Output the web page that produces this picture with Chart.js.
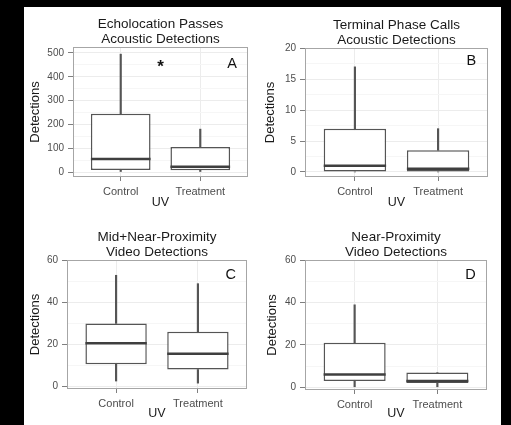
<!DOCTYPE html>
<html>
<head>
<meta charset="utf-8">
<script src="https://cdn.jsdelivr.net/npm/chart.js@4/dist/chart.umd.min.js"></script>
<style>
  html, body { margin: 0; padding: 0; background: #000; width: 511px; height: 425px; overflow: hidden; }
  #sheet { position: absolute; left: 24px; top: 7px; width: 477px; height: 418px; background: #fff; }
  canvas { position: absolute; }
</style>
</head>
<body>
<div id="sheet"></div>
<canvas id="chartA" width="238" height="208" style="left:24px;top:7px"></canvas>
<canvas id="chartB" width="239" height="208" style="left:262px;top:7px"></canvas>
<canvas id="chartC" width="238" height="210" style="left:24px;top:215px"></canvas>
<canvas id="chartD" width="239" height="210" style="left:262px;top:215px"></canvas>
<script>
// categories on the x axis
var categories = ["Control", "Treatment"];

// box summaries per category: [lower whisker, Q1, median, Q3, upper whisker]
var echoControl = [0, 8, 55, 245, 495];
var echoTreatment = [0, 7, 22, 105, 180];
var terminalControl = [0, 0, 1, 7, 17];
var terminalTreatment = [0, 0, 0.5, 3.5, 7];
var midNearControl = [2.5, 10.5, 20.5, 30, 53];
var midNearTreatment = [1.5, 8, 15.5, 26, 49];
var nearControl = [0, 3, 6, 21, 39];
var nearTreatment = [0, 2, 3, 7, 7];

// y tick labels
var ticksEcho = [0, 100, 200, 300, 400, 500];
var ticksTerminal = [0, 5, 10, 15, 20];
var ticksVideo = [0, 20, 40, 60];

var panelTitles = [
    ["Echolocation Passes", "Acoustic Detections"],
    ["Terminal Phase Calls", "Acoustic Detections"],
    ["Mid+Near-Proximity", "Video Detections"],
    ["Near-Proximity", "Video Detections"]
];
var panelLetters = ["A", "B", "C", "D"];
var letterY = [455, 18, 53, 53];
var starLabel = "*";
var starY = 440;

var BOX_WIDTH = 0.75;
var LINE_COLOR = "#555555";
var FONT = "'Liberation Sans', Arial, sans-serif";

// frame round the plotting area
var framePlugin = {
    id: "frame",
    beforeDatasetsDraw: function (chart) {
        var a = chart.chartArea, ctx = chart.ctx;
        ctx.save();
        ctx.strokeStyle = "#a6a6a6";
        ctx.lineWidth = 1;
        ctx.strokeRect(Math.round(a.left) + 0.5, Math.round(a.top) + 0.5,
            Math.round(a.right - a.left) - 1, Math.round(a.bottom - a.top) - 1);
        ctx.restore();
    }
};

// text notes placed in data coordinates (panel letter, asterisk)
var notesPlugin = {
    id: "notes",
    afterDatasetsDraw: function (chart, args, opts) {
        var ctx = chart.ctx, xs = chart.scales.x, ys = chart.scales.y;
        (opts.items || []).forEach(function (n) {
            ctx.save();
            ctx.font = n.font;
            ctx.fillStyle = "#111";
            ctx.textAlign = "center";
            ctx.textBaseline = "middle";
            ctx.fillText(n.text, xs.getPixelForValue(n.x), ys.getPixelForValue(n.y));
            ctx.restore();
        });
    }
};

function makePanel(id, idx, control, treatment, majorTicks, layout) {
    var stats = [control, treatment];
    var step = majorTicks[1] - majorTicks[0];
    var allTicks = [];
    majorTicks.forEach(function (t) {
        allTicks.push(t);
        if (t + step / 2 < layout.yMax) allTicks.push(t + step / 2);
    });

    var notes = [{ text: panelLetters[idx], x: 2.4, y: letterY[idx], font: "14.5px " + FONT }];
    if (layout.star) notes.push({ text: starLabel, x: 1.5, y: starY, font: "bold 17px " + FONT });

    var whiskerCommon = {
        type: "bar", grouped: false, barThickness: 1.5,
        backgroundColor: LINE_COLOR, borderWidth: 0, order: 2
    };

    new Chart(document.getElementById(id), {
        type: "bar",
        data: {
            datasets: [
                Object.assign({ data: stats.map(function (s, i) { return { x: i + 1, y: [s[0], s[1]] }; }) }, whiskerCommon),
                Object.assign({ data: stats.map(function (s, i) { return { x: i + 1, y: [s[3], s[4]] }; }) }, whiskerCommon),
                {
                    type: "bar",
                    grouped: false,
                    data: stats.map(function (s, i) { return { x: i + 1, y: [s[1], s[3]] }; }),
                    backgroundColor: "#ffffff",
                    borderColor: LINE_COLOR,
                    borderWidth: 1.5,
                    borderSkipped: false,
                    categoryPercentage: 1,
                    barPercentage: BOX_WIDTH,
                    order: 1
                },
                {
                    type: "line",
                    data: stats.map(function (s, i) { return { x: i + 1, y: s[2] }; }),
                    showLine: false,
                    pointStyle: "line",
                    pointBorderColor: "#3f3f3f",
                    pointBorderWidth: 2.5,
                    pointRadius: function (c) {
                        var xs = c.chart.scales.x;
                        return xs.getPixelForValue(1 + BOX_WIDTH / 2) - xs.getPixelForValue(1);
                    },
                    order: 0
                }
            ]
        },
        options: {
            responsive: false,
            animation: false,
            layout: { padding: { left: 0, right: layout.rightPad, top: 0, bottom: 0 } },
            plugins: {
                legend: { display: false },
                tooltip: { enabled: false },
                title: {
                    display: true,
                    fullSize: false,
                    text: panelTitles[idx],
                    color: "#1a1a1a",
                    font: { family: FONT, size: 13.5, weight: "normal", lineHeight: "15px" },
                    padding: { top: layout.titleTop, bottom: 0 }
                },
                notes: { items: notes }
            },
            scales: {
                x: {
                    type: "linear",
                    min: 0.4,
                    max: 2.6,
                    offset: false,
                    afterBuildTicks: function (s) {
                        s.ticks = categories.map(function (c, i) { return { value: i + 1 }; });
                    },
                    afterFit: function (s) { s.height = layout.xH; },
                    ticks: {
                        autoSkip: false,
                        maxRotation: 0,
                        padding: 4,
                        color: "#4d4d4d",
                        font: { family: FONT, size: 11 },
                        callback: function (v) { return categories[v - 1]; }
                    },
                    grid: { offset: false, color: "#ececec", tickColor: "#7f7f7f", tickLength: 4, lineWidth: 1 },
                    border: { display: false },
                    title: {
                        display: true, text: "UV", color: "#1a1a1a",
                        font: { family: FONT, size: 12.5 },
                        padding: { top: 0, bottom: layout.uvBottom }
                    }
                },
                y: {
                    min: layout.yMin,
                    max: layout.yMax,
                    afterBuildTicks: function (s) {
                        s.ticks = allTicks.map(function (v) { return { value: v }; });
                    },
                    afterFit: function (s) { s.width = layout.yW; },
                    ticks: {
                        autoSkip: false,
                        padding: 4,
                        color: "#4d4d4d",
                        font: { family: FONT, size: 10 },
                        callback: function (v) { return majorTicks.indexOf(v) >= 0 ? String(v) : ""; }
                    },
                    grid: {
                        color: function (c) { return majorTicks.indexOf(c.tick.value) >= 0 ? "#ececec" : "#f6f6f6"; },
                        tickColor: function (c) { return majorTicks.indexOf(c.tick.value) >= 0 ? "#7f7f7f" : "rgba(0,0,0,0)"; },
                        tickLength: 5,
                        lineWidth: 1
                    },
                    border: { display: false },
                    title: {
                        display: true, text: "Detections", color: "#1a1a1a",
                        font: { family: FONT, size: 13 },
                        padding: { top: layout.detTop, bottom: 0 }
                    }
                }
            }
        },
        plugins: [framePlugin, notesPlugin]
    });
}

makePanel("chartA", 0, echoControl, echoTreatment, ticksEcho,
    { yMin: -21, yMax: 525, yW: 49, rightPad: 14, xH: 38, titleTop: 10, detTop: 4, uvBottom: 5, star: true });
makePanel("chartB", 1, terminalControl, terminalTreatment, ticksTerminal,
    { yMin: -0.82, yMax: 20.05, yW: 43, rightPad: 13, xH: 38, titleTop: 11, detTop: 1, uvBottom: 5 });
makePanel("chartC", 2, midNearControl, midNearTreatment, ticksVideo,
    { yMin: -1.3, yMax: 60.3, yW: 43, rightPad: 15, xH: 36, titleTop: 15, detTop: 4, uvBottom: 4 });
makePanel("chartD", 3, nearControl, nearTreatment, ticksVideo,
    { yMin: -1.3, yMax: 60.2, yW: 43, rightPad: 14, xH: 35, titleTop: 15, detTop: 3, uvBottom: 4 });
</script>
</body>
</html>
